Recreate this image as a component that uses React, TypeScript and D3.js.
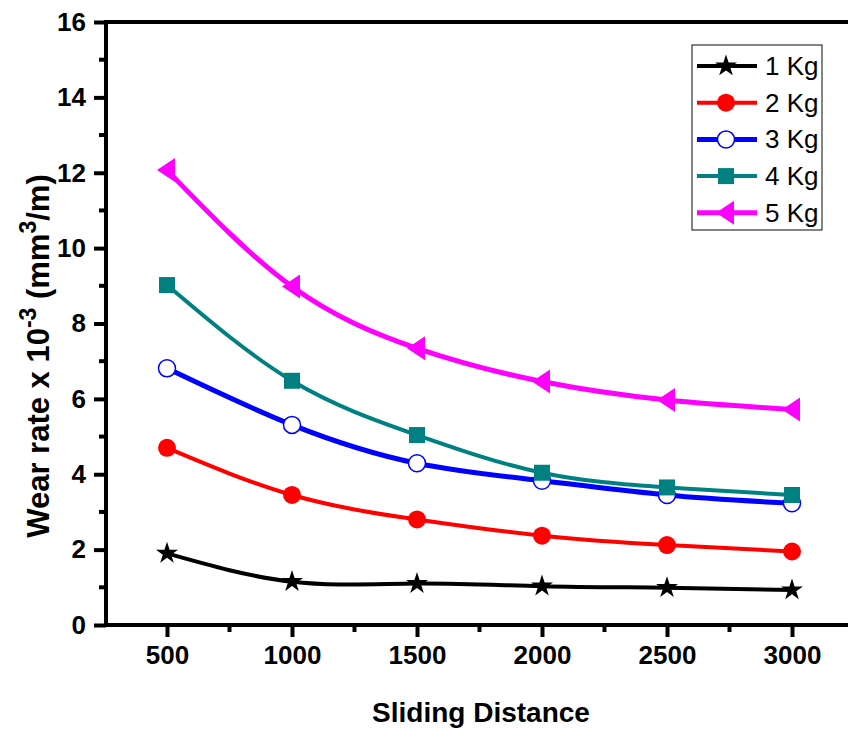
import * as d3 from 'd3';
import { useEffect, useRef } from 'react';

// values
const distances = [500, 1000, 1500, 2000, 2500, 3000];
const kg1 = [1.9, 1.15, 1.1, 1.03, 0.99, 0.93];
const kg2 = [4.7, 3.45, 2.8, 2.37, 2.12, 1.95];
const kg3 = [6.81, 5.31, 4.29, 3.83, 3.45, 3.23];
const kg4 = [9.02, 6.48, 5.04, 4.04, 3.65, 3.45];
const kg5 = [12.07, 8.98, 7.34, 6.46, 5.97, 5.72];
const labels = ['1 Kg', '2 Kg', '3 Kg', '4 Kg', '5 Kg'];
const yTicks = [0, 2, 4, 6, 8, 10, 12, 14, 16];
const xTicks = [500, 1000, 1500, 2000, 2500, 3000];

const series = [
  { name: labels[0], values: kg1, color: '#000000', marker: 'star', lw: 4 },
  { name: labels[1], values: kg2, color: '#ff0000', marker: 'circle', lw: 4 },
  { name: labels[2], values: kg3, color: '#0000ff', marker: 'open', lw: 5 },
  { name: labels[3], values: kg4, color: '#008080', marker: 'square', lw: 4 },
  { name: labels[4], values: kg5, color: '#ff00ff', marker: 'triangle', lw: 5 },
];

const width = 848;
const height = 731;
const left = 106;
const top = 22;
const bottom = 625;
const right = 854.5;
const font = 'Liberation Sans, Arial, sans-serif';

const starPath = d3.symbol(d3.symbolStar, 150)()!;

function Marker({ kind, color, cx, cy }) {
  const t = `translate(${cx},${cy})`;
  if (kind === 'star') return <path d={starPath} transform={t} fill={color} />;
  if (kind === 'circle') return <circle cx={cx} cy={cy} r={9} fill={color} />;
  if (kind === 'open')
    return <circle cx={cx} cy={cy} r={8.5} fill="#fff" stroke={color} strokeWidth={1.5} />;
  if (kind === 'square')
    return <rect x={cx - 8} y={cy - 8} width={16} height={16} fill={color} />;
  return <path d="M-10,0L8,-12L8,12Z" transform={t} fill={color} />;
}

export default function App() {
  const gx = useRef(null);
  const gy = useRef(null);

  const x = d3.scaleLinear([256, 3250], [left, right]);
  const y = d3.scaleLinear([0, 16], [bottom, top]);

  const line = d3
    .line<number>()
    .x((d, i) => x(distances[i]))
    .y((d) => y(d))
    .curve(d3.curveNatural);

  useEffect(() => {
    const xAxis = d3.axisBottom(x).tickValues(xTicks).tickSize(12).tickPadding(9).tickFormat(d3.format('d'));
    const yAxis = d3.axisLeft(y).tickValues(yTicks).tickSize(12).tickPadding(8);
    const style = (g) => {
      g.select('.domain').remove();
      g.selectAll('line').attr('stroke', '#000').attr('stroke-width', 4);
      g.selectAll('text')
        .attr('font-size', 26)
        .attr('font-weight', 'bold')
        .attr('font-family', font)
        .attr('fill', '#000');
    };
    d3.select(gx.current).call(xAxis).call(style);
    d3.select(gy.current).call(yAxis).call(style);
  }, []);

  const minorX = d3.range(750, 3250, 500);
  const minorY = d3.range(1, 16, 2);

  return (
    <svg width={width} height={height} style={{ position: 'absolute', left: 0, top: 0, background: '#fff' }}>
      <g ref={gx} transform={`translate(0,${bottom})`} />
      <g ref={gy} transform={`translate(${left},0)`} />

      {minorX.map((v) => (
        <line key={v} x1={x(v)} x2={x(v)} y1={bottom} y2={bottom + 7} stroke="#000" strokeWidth={4} />
      ))}
      {minorY.map((v) => (
        <line key={v} x1={left - 7} x2={left} y1={y(v)} y2={y(v)} stroke="#000" strokeWidth={4} />
      ))}

      <rect x={left} y={top} width={right - left} height={bottom - top} fill="none" stroke="#000" strokeWidth={4} />

      {series.map((s) => (
        <g key={s.name}>
          <path d={line(s.values)!} fill="none" stroke={s.color} strokeWidth={s.lw} />
          {s.values.map((v, i) => (
            <Marker key={i} kind={s.marker} color={s.color} cx={x(distances[i])} cy={y(v)} />
          ))}
        </g>
      ))}

      <g transform="translate(692,45)">
        <rect width={130} height={185} fill="#fff" stroke="#333" strokeWidth={1.2} />
        {series.map((s, i) => {
          const ly = 21 + i * 36.7;
          return (
            <g key={s.name}>
              <line x1={5} x2={65} y1={ly} y2={ly} stroke={s.color} strokeWidth={s.lw} />
              <Marker kind={s.marker} color={s.color} cx={34} cy={ly} />
              <text x={73} y={ly + 9} fontSize={26} fontFamily={font} fill="#000">
                {s.name}
              </text>
            </g>
          );
        })}
      </g>

      <text x={481} y={722} textAnchor="middle" fontSize={28} fontWeight="bold" fontFamily={font}>
        Sliding Distance
      </text>

      <text
        transform="translate(49,356) rotate(-90)"
        textAnchor="middle"
        fontSize={31}
        fontWeight="bold"
        fontFamily={font}
      >
        Wear rate x 10
        <tspan fontSize={23} dy={-13}>-3</tspan>
        <tspan dy={13}> (mm</tspan>
        <tspan fontSize={23} dy={-13}>3</tspan>
        <tspan dy={13}>/m)</tspan>
      </text>
    </svg>
  );
}
